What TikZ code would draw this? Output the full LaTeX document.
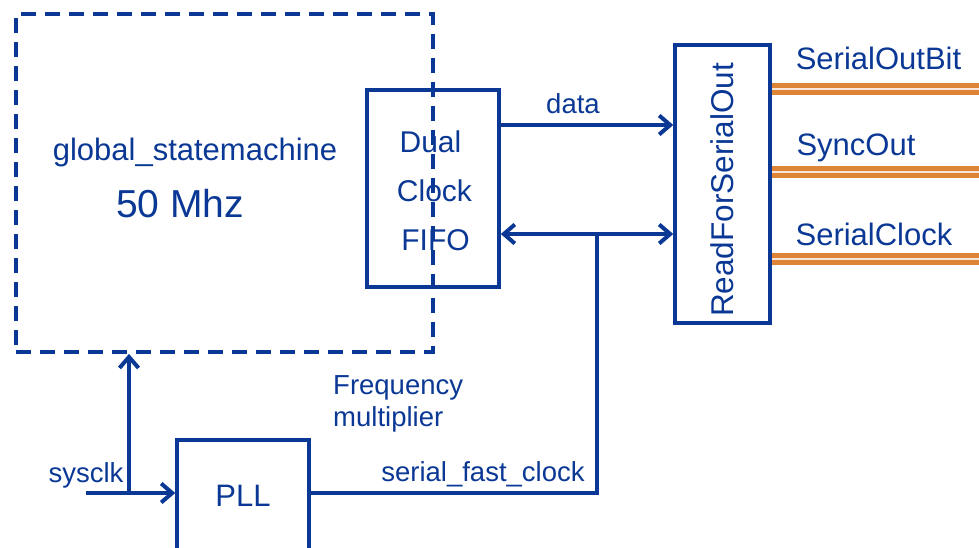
\documentclass[tikz,border=0pt]{standalone}
\usepackage{fontspec}
\setmainfont{Liberation Sans}
\usetikzlibrary{arrows.meta}
\definecolor{linkblue}{RGB}{10,56,148}
\definecolor{wireorange}{RGB}{222,132,55}
\newcommand{\fsz}[1]{\fontsize{#1}{#1}\selectfont}
\tikzset{
  x=1pt, y=-1pt,
  box/.style={draw=linkblue, line width=3.5pt, inner sep=0pt},
  dashbox/.style={draw=linkblue, line width=3.8pt, dash pattern=on 15pt off 9pt, inner sep=0pt},
  lbl/.style={text=linkblue, inner sep=0pt},
  wire/.style={draw=linkblue, line width=4pt},
  arr/.style={wire, -{Straight Barb[length=11pt,width=19pt,line width=4pt]}},
  biarr/.style={wire, {Straight Barb[length=11pt,width=19pt,line width=4pt]}-{Straight Barb[length=11pt,width=19pt,line width=4pt]}},
  outwire/.style={draw=wireorange, line width=5pt, double=wireorange!20, double distance=1.6pt},
}
\begin{document}
\begin{tikzpicture}
\useasboundingbox (0,0) rectangle (979,547);

% blocks
\node[dashbox, minimum width=417pt, minimum height=338pt] (gsm) at (224.5,183) {};
\node[box, minimum width=132pt, minimum height=197pt] (fifo) at (433,188.5) {};
\node[box, minimum width=95pt, minimum height=278pt] (rso) at (722.5,184) {};
\node[box, minimum width=132pt, minimum height=112pt] (pll) at (243,496) {};

% block texts
\node[lbl, font=\fsz{31}] (gsmname) at (195,152) {global\_statemachine};
\node[lbl, font=\fsz{39}] (gsmfreq) at (180,204) {50 Mhz};
\node[lbl, font=\fsz{30}] (fifo1) at (430.5,142) {Dual};
\node[lbl, font=\fsz{30}] (fifo2) at (434.5,191) {Clock};
\node[lbl, font=\fsz{30}] (fifo3) at (435.5,240) {FIFO};
\node[lbl, font=\fsz{31.5}, rotate=90] (rsoname) at (722,190) {ReadForSerialOut};
\node[lbl, font=\fsz{31}] (pllname) at (pll.center) {PLL};

% signal labels
\node[lbl, font=\fsz{27.5}] (datalbl) at (573,104) {data};
\node[lbl, font=\fsz{27.5}] (sysclklbl) at (86,475) {sysclk};
\node[lbl, font=\fsz{27.5}] (fastlbl) at (483,474) {serial\_fast\_clock};
\node[lbl, font=\fsz{27.5}, anchor=west] (freq1) at (333,388) {Frequency};
\node[lbl, font=\fsz{27.5}, anchor=west] (freq2) at (333,419) {multiplier};
\node[lbl, font=\fsz{31}] (outbit) at (878.5,58) {SerialOutBit};
\node[lbl, font=\fsz{31}] (syncout) at (856,148) {SyncOut};
\node[lbl, font=\fsz{31}] (sclk) at (874,234) {SerialClock};

% routing points
\coordinate (datay) at (0,125);
\coordinate (clky) at (0,234);
\coordinate (tap) at (597,234);
\coordinate (fastcorner) at (597,493);
\coordinate (sysin) at (86,493);
\coordinate (split) at (129,493);
\coordinate (o1) at (979,89);
\coordinate (o2) at (979,172);
\coordinate (o3) at (979,259);

% connectors
\draw[arr] (fifo.east |- datay) -- (rso.west |- datay);
\draw[biarr] (fifo.east |- clky) -- (rso.west |- clky);
\draw[wire] (pll.east |- fastcorner) -- (fastcorner) -- (tap);
\draw[arr] (sysin) -- (pll.west |- sysin);
\draw[arr] (split) -- (split |- gsm.south);

% serial outputs
\draw[outwire] (rso.east |- o1) -- (o1);
\draw[outwire] (rso.east |- o2) -- (o2);
\draw[outwire] (rso.east |- o3) -- (o3);
\end{tikzpicture}
\end{document}
